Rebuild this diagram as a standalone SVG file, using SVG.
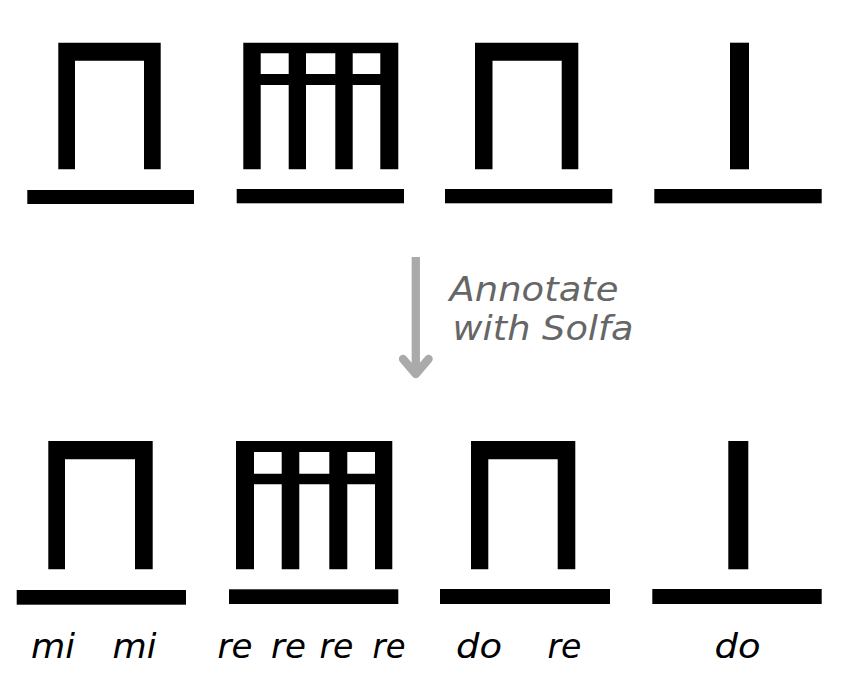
<svg xmlns="http://www.w3.org/2000/svg" width="843" height="681" viewBox="0 0 843 681">
<style>
.s{fill:#000}
.lbl{font-family:"DejaVu Sans","Liberation Sans",sans-serif;font-style:italic;font-size:33px;fill:#000}
.ann{font-family:"DejaVu Sans","Liberation Sans",sans-serif;font-style:italic;font-size:33px;fill:#666}
</style>
<rect width="843" height="681" fill="#fff"/>
<g id="top-1">
<path class="s" d="M58.3 42.7H160.7V169.3H144V60.7H75V169.3H58.3Z"/>
<rect class="s" x="27.3" y="190" width="166.7" height="14"/>
</g>
<g id="top-2">
<path class="s" fill-rule="evenodd" d="M243.3 42.7H398.3V169.3H380.3V85H352.7V169.3H335.3V85H306V169.3H288.7V85H260.7V169.3H243.3Z M260.7 53.3V74H288.7V53.3Z M306 53.3V74H335.3V53.3Z M352.7 53.3V74H380.3V53.3Z"/>
<rect class="s" x="236.7" y="189" width="167.3" height="14.3"/>
</g>
<g id="top-3">
<path class="s" d="M475 42.7H578.3V169.3H561.7V60.7H492.5V169.3H475Z"/>
<rect class="s" x="445" y="189" width="167.3" height="14.3"/>
</g>
<g id="top-4">
<rect class="s" x="730" y="42.7" width="19" height="126.6"/>
<rect class="s" x="654.3" y="189" width="167.4" height="14.3"/>
</g>
<g id="connectors">
<path d="M415.8 257V374" fill="none" stroke="#aaa" stroke-width="8.3"/>
<path d="M403 359L415.8 374L428.6 359" fill="none" stroke="#aaa" stroke-width="8.3" stroke-linecap="round" stroke-linejoin="round"/>
</g>
<g id="annotation">
<text class="ann" x="449.5" y="300.5" textLength="169" lengthAdjust="spacingAndGlyphs">Annotate</text>
<text class="ann" x="452.5" y="340" textLength="181" lengthAdjust="spacingAndGlyphs">with Solfa</text>
</g>
<g id="bottom-1">
<path class="s" d="M48.3 441H152.7V569.3H135V459.3H65V569.3H48.3Z"/>
<rect class="s" x="16.7" y="590" width="169.3" height="14.7"/>
<text class="lbl" x="31" y="657.5" textLength="44" lengthAdjust="spacingAndGlyphs">mi</text>
<text class="lbl" x="112.5" y="657.5" textLength="44" lengthAdjust="spacingAndGlyphs">mi</text>
</g>
<g id="bottom-2">
<path class="s" fill-rule="evenodd" d="M236 441H392.3V569.3H375V484.3H347.3V569.3H329.3V484.3H299.3V569.3H281.7V484.3H254V569.3H236Z M254 452V473.7H281.7V452Z M299.3 452V473.7H329.3V452Z M347.3 452V473.7H375V452Z"/>
<rect class="s" x="229" y="589.3" width="169.3" height="14.7"/>
<text class="lbl" x="217.5" y="657.5" textLength="35" lengthAdjust="spacingAndGlyphs">re</text>
<text class="lbl" x="271" y="657.5" textLength="35" lengthAdjust="spacingAndGlyphs">re</text>
<text class="lbl" x="319.5" y="657.5" textLength="34" lengthAdjust="spacingAndGlyphs">re</text>
<text class="lbl" x="372.5" y="657.5" textLength="33" lengthAdjust="spacingAndGlyphs">re</text>
</g>
<g id="bottom-3">
<path class="s" d="M471 441H575.3V569.3H557.7V459.3H488.3V569.3H471Z"/>
<rect class="s" x="440" y="589" width="170" height="15"/>
<text class="lbl" x="456" y="657.5" textLength="46" lengthAdjust="spacingAndGlyphs">do</text>
<text class="lbl" x="547.5" y="657.5" textLength="34" lengthAdjust="spacingAndGlyphs">re</text>
</g>
<g id="bottom-4">
<rect class="s" x="728.3" y="441" width="20" height="128.3"/>
<rect class="s" x="652.3" y="589" width="169.4" height="15"/>
<text class="lbl" x="714.5" y="657.5" textLength="46" lengthAdjust="spacingAndGlyphs">do</text>
</g>
</svg>
